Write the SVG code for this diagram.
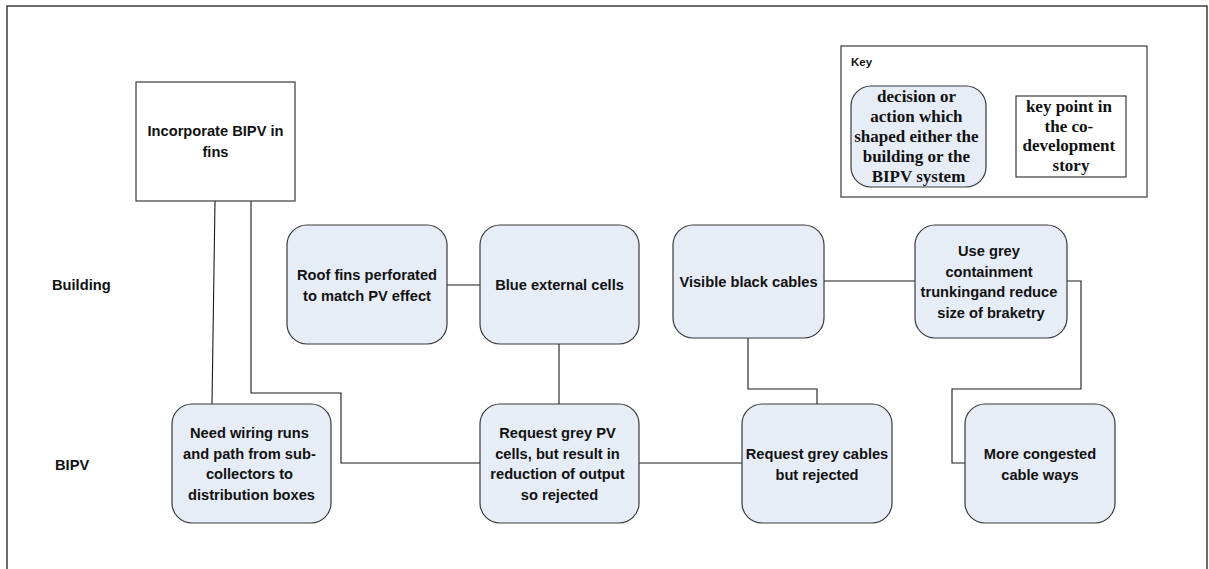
<svg xmlns="http://www.w3.org/2000/svg" width="1209" height="569" viewBox="0 0 1209 569">
  <style>
    .frame { fill: #ffffff; stroke: #3c3c3c; stroke-width: 1.5; }
    .step { fill: #e7edf7; stroke: #3a3a3a; stroke-width: 1.2; }
    .point { fill: #ffffff; stroke: #3a3a3a; stroke-width: 1.2; }
    .wire { fill: none; stroke: #1a1a1a; stroke-width: 1.1; }
    .t { font-family: "Liberation Sans", Arial, sans-serif; font-weight: bold; font-size: 14.67px; fill: #111111; text-anchor: middle; }
    .lane { font-family: "Liberation Sans", Arial, sans-serif; font-weight: bold; font-size: 14.67px; fill: #111111; }
    .keyhead { font-family: "Liberation Sans", Arial, sans-serif; font-weight: bold; font-size: 11.5px; fill: #111111; }
    .serif { font-family: "Liberation Serif", "Times New Roman", serif; font-weight: bold; font-size: 17px; fill: #111111; text-anchor: middle; }
  </style>

  <!-- outer frame (open at the bottom edge) -->
  <rect class="frame" x="7" y="6" width="1200" height="580"/>

  <!-- swim-lane labels -->
  <text class="lane" x="52" y="290">Building</text>
  <text class="lane" x="55" y="470">BIPV</text>

  <!-- key -->
  <g id="key">
    <rect class="point" x="841" y="46" width="306" height="151"/>
    <text class="keyhead" x="851" y="66">Key</text>
    <rect class="step" x="851" y="86" width="135" height="101" rx="20" ry="20"/>
    <text class="serif">
      <tspan x="918.5" y="102">decision or</tspan>
      <tspan x="918.5" y="122">action which</tspan>
      <tspan x="918.5" y="142">shaped either the</tspan>
      <tspan x="918.5" y="162">building or the</tspan>
      <tspan x="918.5" y="182">BIPV system</tspan>
    </text>
    <rect class="point" x="1016" y="96" width="110" height="81"/>
    <text class="serif">
      <tspan x="1071" y="112">key point in</tspan>
      <tspan x="1071" y="131.5">the co-</tspan>
      <tspan x="1071" y="151">development</tspan>
      <tspan x="1071" y="170.5">story</tspan>
    </text>
  </g>

  <!-- connectors -->
  <g id="connectors">
    <path class="wire" d="M215,201 L212,404"/>
    <path class="wire" d="M251,201 V393 H341 V463 H480"/>
    <path class="wire" d="M447,285 H480"/>
    <path class="wire" d="M559,344 V404"/>
    <path class="wire" d="M639,463 H742"/>
    <path class="wire" d="M748,338 V389 H817 V404"/>
    <path class="wire" d="M824,281 H915"/>
    <path class="wire" d="M1067,281 H1081 V389 H952 V463 H965"/>
  </g>

  <!-- key point -->
  <g id="incorporate">
    <rect class="point" x="136" y="82" width="159" height="119"/>
    <text class="t"><tspan x="215.5" y="136">Incorporate BIPV in</tspan><tspan x="215.5" y="157">fins</tspan></text>
  </g>

  <!-- building lane -->
  <g id="roof-fins">
    <rect class="step" x="287" y="225" width="160" height="119" rx="20" ry="20"/>
    <text class="t"><tspan x="367" y="280">Roof fins perforated</tspan><tspan x="367" y="300.5">to match PV effect</tspan></text>
  </g>
  <g id="blue-cells">
    <rect class="step" x="480" y="225" width="159" height="119" rx="20" ry="20"/>
    <text class="t" x="559.5" y="290">Blue external cells</text>
  </g>
  <g id="black-cables">
    <rect class="step" x="673" y="225" width="151" height="113" rx="20" ry="20"/>
    <text class="t" x="748.5" y="287">Visible black cables</text>
  </g>
  <g id="grey-trunking">
    <rect class="step" x="915" y="225" width="152" height="113" rx="20" ry="20"/>
    <text class="t">
      <tspan x="991" y="256">Use grey</tspan>
      <tspan x="991" y="276.5">containment</tspan>
      <tspan x="991" y="297">trunkingand reduce</tspan>
      <tspan x="991" y="317.5">size of braketry</tspan>
    </text>
  </g>

  <!-- BIPV lane -->
  <g id="wiring-runs">
    <rect class="step" x="172" y="404" width="159" height="119" rx="20" ry="20"/>
    <text class="t">
      <tspan x="251.5" y="438">Need wiring runs</tspan>
      <tspan x="251.5" y="458.5">and path from sub-</tspan>
      <tspan x="251.5" y="479">collectors to</tspan>
      <tspan x="251.5" y="499.5">distribution boxes</tspan>
    </text>
  </g>
  <g id="grey-cells">
    <rect class="step" x="480" y="404" width="159" height="119" rx="20" ry="20"/>
    <text class="t">
      <tspan x="559.5" y="438">Request grey PV</tspan>
      <tspan x="559.5" y="458.5">cells, but result in</tspan>
      <tspan x="559.5" y="479">reduction of output</tspan>
      <tspan x="559.5" y="499.5">so rejected</tspan>
    </text>
  </g>
  <g id="grey-cables">
    <rect class="step" x="742" y="404" width="150" height="119" rx="20" ry="20"/>
    <text class="t"><tspan x="817" y="459">Request grey cables</tspan><tspan x="817" y="479.5">but rejected</tspan></text>
  </g>
  <g id="congested">
    <rect class="step" x="965" y="404" width="150" height="119" rx="20" ry="20"/>
    <text class="t"><tspan x="1040" y="459">More congested</tspan><tspan x="1040" y="479.5">cable ways</tspan></text>
  </g>
</svg>
